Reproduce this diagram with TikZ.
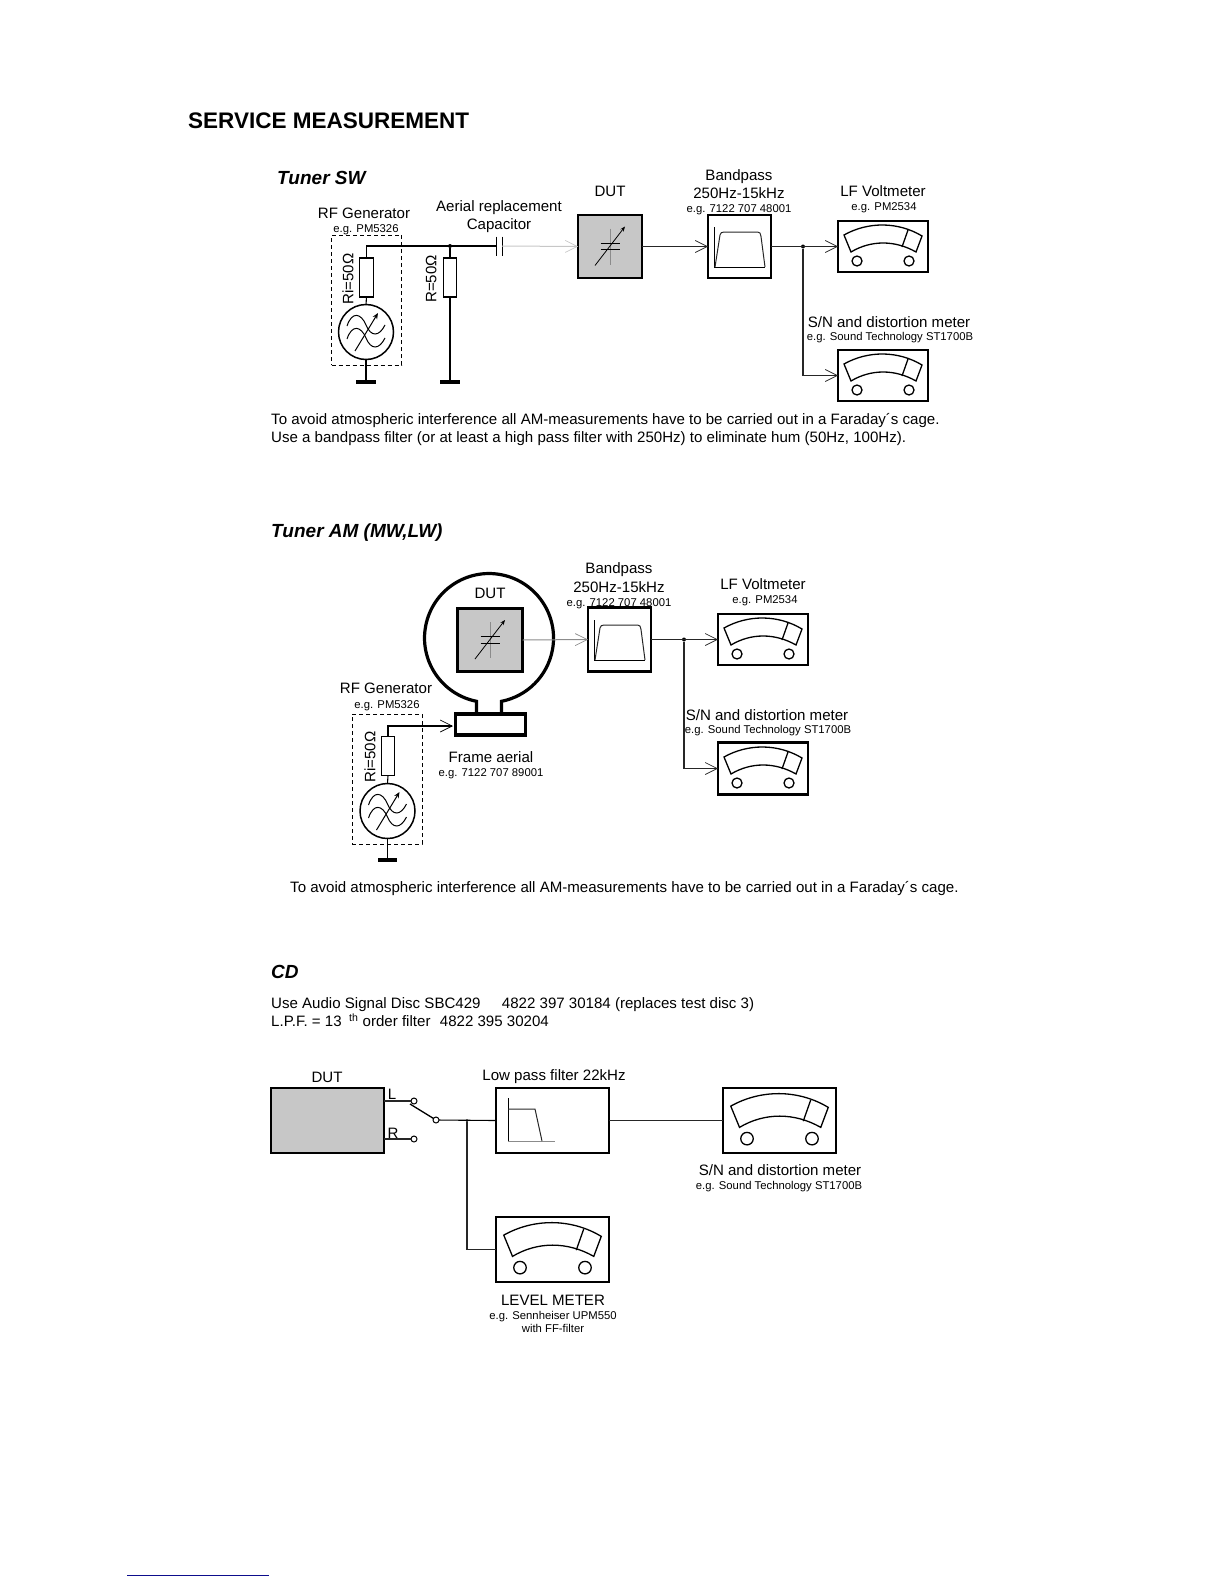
\documentclass[tikz,border=0pt]{standalone}
\usepackage{fontspec}
\setmainfont{Liberation Sans}
\usetikzlibrary{arrows.meta}
\definecolor{dutgray}{gray}{0.78}
\definecolor{wiregray}{gray}{0.15}
\definecolor{palegray}{gray}{0.78}
\definecolor{midgray}{gray}{0.55}
\definecolor{rulecolor}{rgb}{0.05,0.05,0.55}
\tikzset{
  bigtxt/.style={font=\fontsize{15.07}{17}\selectfont,text height=10.8pt,text depth=0pt,inner sep=0pt},
  smalltxt/.style={font=\fontsize{11.3}{13}\selectfont,text height=8pt,text depth=0pt,inner sep=0pt},
  headtxt/.style={font=\fontsize{19}{22}\selectfont\bfseries\itshape,text height=13.6pt,text depth=0pt,inner sep=0pt,anchor=west},
  boxnode/.style={draw,line width=2.2pt,inner sep=0pt,outer sep=0pt},
  dutbox/.style={boxnode,fill=dutgray},
  resbox/.style={draw,line width=1.1pt,inner sep=0pt,outer sep=0pt,minimum width=13.5pt,minimum height=39pt},
  gencircle/.style={draw,circle,line width=1.5pt,inner sep=0pt,outer sep=0pt,minimum size=55pt},
  gndbar/.style={fill=black,inner sep=0pt,outer sep=0pt,minimum width=19.5pt,minimum height=4pt},
  dotnode/.style={circle,fill=black,inner sep=0pt,outer sep=0pt,minimum size=4pt},
  termnode/.style={draw,circle,fill=white,line width=1pt,inner sep=0pt,outer sep=0pt,minimum size=6pt},
  dashbox/.style={draw,dash pattern=on 4pt off 3pt,line width=.9pt,inner sep=0pt,outer sep=0pt,minimum width=70pt,minimum height=130pt},
  wire/.style={line width=1.1pt,draw=wiregray},
  sigwire/.style={wire,-{Straight Barb[length=12pt,width=12pt,line width=.7pt]}},
  palewire/.style={line width=1pt,-{Straight Barb[length=12pt,width=12pt,line width=.7pt]}}
}
\newcommand{\meterface}[2]{%
  \begin{scope}[shift={(#1)},scale=#2,line width=1.3pt]
    \draw (-39,-11.5) .. controls (-15,-25) and (15,-25) .. (39,-10.5) -- (33,5.5) .. controls (12,-6.5) and (-12,-6.5) .. (-32,5.5) -- cycle;
    \draw (25,-16.5) -- (19,.5);
    \draw (-26,14.5) circle (5);
    \draw (26,14.5) circle (5);
  \end{scope}}
\newcommand{\varcap}[1]{%
  \begin{scope}[shift={(#1)}]
    \draw[line width=1pt,palegray!70!black] (0,-18) -- (0,18);
    \draw[line width=1pt] (-9.5,-3.5) -- (9.5,-3.5) (-9.5,3) -- (9.5,3);
    \draw[line width=.8pt,-{Stealth[length=5pt,width=4pt]}] (-15,19) -- (15,-20);
  \end{scope}}
\newcommand{\bandcurve}[1]{%
  \begin{scope}[shift={(#1)}]
    \draw[line width=1pt] (-25.5,-19.5) -- (-25.5,20.5) -- (25.5,20.5);
    \draw[line width=1pt,wiregray] (-24.5,20.5) -- (-19.5,-11.5) .. controls (-18.5,-14) .. (-15.5,-14.5) -- (18,-14.5) .. controls (20.5,-14) .. (21.5,-10) -- (25.5,20.5);
  \end{scope}}
\newcommand{\genface}[1]{%
  \begin{scope}[shift={(#1)},line width=1pt]
    \draw (-19,-6) .. controls (-14,-21) and (-5,-19) .. (0,-7) .. controls (5,5) and (13,5) .. (19,-7);
    \draw (-19,7) .. controls (-14,-8) and (-5,-6) .. (0,6) .. controls (5,18) and (13,18) .. (19,6);
    \draw[-{Stealth[length=6pt,width=5pt]}] (-11,19) -- (12,-19);
  \end{scope}}
\begin{document}
\begin{tikzpicture}[x=1pt,y=1pt,yscale=-1]
\useasboundingbox (0,0) rectangle (1224,1584);
\node[font=\fontsize{22.5}{26}\selectfont\bfseries,anchor=west,inner sep=0pt,text height=16.2pt,text depth=0pt] (pagehead) at (188,120) {SERVICE MEASUREMENT};
% Tuner SW
\node[headtxt] (headsw) at (277,178) {Tuner SW};
\node[dashbox] (rfboxsw) at (366.5,300) {};
\node[bigtxt] (rfsw) at (364,213) {RF Generator};
\node[smalltxt] (rfpmsw) at (366,228) {e.g. PM5326};
\node[resbox] (risw) at (366.5,277.5) {};
\node[bigtxt,rotate=90] (rilabsw) at (348,279) {Ri=50Ω};
\node[gencircle] (gensw) at (366,332) {};
\genface{gensw.center}
\node[gndbar] (gndgensw) at (366,382) {};
\coordinate (capl) at (496,246);
\coordinate (capr) at (502,246);
\node[dotnode] (jsw) at (450,246) {};
\node[resbox] (rsw) at (450,277.5) {};
\node[bigtxt,rotate=90] (rlabsw) at (431,279) {R=50Ω};
\node[gndbar,minimum width=20pt] (gndrsw) at (450,382) {};
\draw[line width=1pt] ([yshift=-9.5]capl) -- ([yshift=9.5]capl) ([yshift=-9.5]capr) -- ([yshift=9.5]capr);
\node[bigtxt] (aerial) at (499,206) {Aerial replacement};
\node[bigtxt] (capacitor) at (499,224) {Capacitor};
\node[bigtxt] (dutlabsw) at (610,191) {DUT};
\node[dutbox,minimum width=64pt,minimum height=63pt] (dutsw) at (610,246.5) {};
\varcap{dutsw.center}
\node[bigtxt] (bandsw) at (739,175) {Bandpass};
\node[bigtxt] (band2sw) at (739,193) {250Hz-15kHz};
\node[smalltxt] (bandnosw) at (739,208) {e.g. 7122 707 48001};
\node[boxnode,minimum width=63pt,minimum height=63pt] (filtsw) at (739.5,246.5) {};
\bandcurve{filtsw.center}
\node[bigtxt] (lfsw) at (883,191) {LF Voltmeter};
\node[smalltxt] (lfpmsw) at (884,206) {e.g. PM2534};
\node[boxnode,minimum width=90pt,minimum height=51pt] (lfmetersw) at (883,246.5) {};
\meterface{lfmetersw.center}{1}
\node[bigtxt] (snsw) at (889,322) {S/N and distortion meter};
\node[smalltxt] (sntypesw) at (890,336.5) {e.g. Sound Technology ST1700B};
\node[boxnode,minimum width=90pt,minimum height=51pt] (snmetersw) at (883,375.5) {};
\meterface{snmetersw.center}{1}
\node[dotnode] (joutsw) at (803,246.5) {};
\draw[wire,black] (risw.north) |- (capl);
\draw[wire,black] (risw.south) -- (gensw.north);
\draw[wire,black] (gensw.south) -- (gndgensw.north);
\draw[wire,black] (jsw) -- (rsw.north);
\draw[wire,black] (rsw.south) -- (gndrsw.north);
\draw[palewire,palegray] (capr) -- (dutsw.west);
\draw[sigwire] (dutsw.east) -- (filtsw.west);
\draw[sigwire] (filtsw.east) -- (lfmetersw.west);
\draw[sigwire] (joutsw) |- (snmetersw.west);
\node[bigtxt,anchor=west] (notesw) at (271,419) {To avoid atmospheric interference all AM-measurements have to be carried out in a Faraday´s cage.};
\node[bigtxt,anchor=west] (notesw2) at (271,437) {Use a bandpass filter (or at least a high pass filter with 250Hz) to eliminate hum (50Hz, 100Hz).};
% Tuner AM
\node[headtxt] (headam) at (271,531) {Tuner AM (MW,LW)};
\node[dashbox] (rfboxam) at (387,779) {};
\node[bigtxt] (rfam) at (386,688) {RF Generator};
\node[smalltxt] (rfpmam) at (387,704) {e.g. PM5326};
\node[resbox,minimum width=12.5pt] (riam) at (388,756) {};
\node[bigtxt,rotate=90] (rilabam) at (370,757) {Ri=50Ω};
\node[gencircle] (genam) at (387.5,811) {};
\genface{genam.center}
\node[gndbar] (gndgenam) at (387.5,860) {};
\draw[line width=3.2pt] (476.5,713) -- (476.5,701.3) arc[start angle=101.2,end angle=438.8,radius=64.5] -- (501.5,713);
\node[draw,line width=3.2pt,inner sep=0pt,outer sep=0pt,minimum width=70pt,minimum height=21pt] (frame) at (490.5,724.5) {};
\node[bigtxt] (framelab) at (491,757) {Frame aerial};
\node[smalltxt] (frameno) at (491,772) {e.g. 7122 707 89001};
\node[bigtxt] (dutlabam) at (490,593) {DUT};
\node[dutbox,minimum width=65pt,minimum height=63pt] (dutam) at (490,640) {};
\varcap{dutam.center}
\node[bigtxt] (bandam) at (619,568) {Bandpass};
\node[bigtxt] (band2am) at (619,587) {250Hz-15kHz};
\node[smalltxt] (bandnoam) at (619,602) {e.g. 7122 707 48001};
\node[boxnode,minimum width=63pt,minimum height=64pt] (filtam) at (619.5,639.5) {};
\bandcurve{filtam.center}
\node[bigtxt] (lfam) at (763,584) {LF Voltmeter};
\node[smalltxt] (lfpmam) at (765,599) {e.g. PM2534};
\node[boxnode,minimum width=90pt,minimum height=51pt] (lfmeteram) at (763,639.5) {};
\meterface{lfmeteram.center}{1}
\node[bigtxt] (snam) at (767,715) {S/N and distortion meter};
\node[smalltxt] (sntypeam) at (768,729) {e.g. Sound Technology ST1700B};
\node[boxnode,minimum width=90pt,minimum height=52pt] (snmeteram) at (763,768.5) {};
\meterface{snmeteram.center}{1}
\node[dotnode] (joutam) at (684,639.5) {};
\coordinate (frameport) at (453,726);
\draw[wire,black] (riam.south) -- (genam.north);
\draw[wire,black] (genam.south) -- (gndgenam.north);
\draw[sigwire,black] (riam.north) |- (frameport);
\draw[palewire,midgray] (dutam.east) -- (filtam.west);
\draw[sigwire] (filtam.east) -- (lfmeteram.west);
\draw[sigwire] (joutam) |- (snmeteram.west);
\node[bigtxt,anchor=west] (noteam) at (290,887) {To avoid atmospheric interference all AM-measurements have to be carried out in a Faraday´s cage.};
% CD
\node[headtxt] (headcd) at (271,972) {CD};
\node[bigtxt,anchor=west] (notecd) at (271,1003) {Use Audio Signal Disc SBC429 \hspace{13pt} 4822 397 30184 (replaces test disc 3)};
\node[bigtxt,anchor=west] (notecd2) at (271,1021) {L.P.F. = 13\hspace{7.5pt}\textsuperscript{th} order filter \hspace{1pt} 4822 395 30204};
\node[bigtxt] (dutlabcd) at (327,1077) {DUT};
\node[dutbox,minimum width=113pt,minimum height=65pt] (dutcd) at (327.5,1120.5) {};
\node[bigtxt] (lout) at (392,1094) {L};
\node[bigtxt] (rout) at (393,1133) {R};
\coordinate (loutport) at (384,1101);
\coordinate (routport) at (384,1139);
\node[termnode] (lterm) at (414,1101) {};
\node[termnode] (rterm) at (414,1139) {};
\node[termnode] (swterm) at (436,1120) {};
\coordinate (swtip) at (410,1104);
\node[dotnode,minimum size=3pt] (jcd) at (467,1120.5) {};
\node[bigtxt] (lowpass) at (554,1075) {Low pass filter 22kHz};
\node[boxnode,minimum width=113pt,minimum height=65pt] (filtcd) at (552.5,1120.5) {};
\draw[line width=1pt] (508,1098) -- (508,1141);
\draw[line width=1pt,palegray!70!black] (508,1141) -- (555,1141);
\draw[line width=1pt,wiregray] (508,1109) -- (535,1109) -- (542,1141);
\node[boxnode,minimum width=113pt,minimum height=65pt] (snmetercd) at (779.5,1120.5) {};
\meterface{snmetercd.center}{1.25}
\node[bigtxt] (sncd) at (780,1170) {S/N and distortion meter};
\node[smalltxt] (sntypecd) at (779,1185) {e.g. Sound Technology ST1700B};
\node[boxnode,minimum width=113pt,minimum height=65pt] (levelcd) at (552.5,1249.5) {};
\meterface{levelcd.center}{1.25}
\node[bigtxt] (levellab) at (553,1300) {LEVEL METER};
\node[smalltxt] (leveltype) at (553,1315) {e.g. Sennheiser UPM550};
\node[smalltxt] (levelff) at (553,1328) {with FF-filter};
\draw[wire] (loutport) -- (lterm);
\draw[wire] (routport) -- (rterm);
\draw[line width=1.3pt] (swtip) -- (swterm);
\draw[wire,black] (swterm) -- (filtcd.west);
\draw[wire] (filtcd.east) -- (snmetercd.west);
\draw[wire] (jcd) |- (levelcd.west);
% page foot
\draw[line width=1pt,rulecolor] (127,1575) -- (269,1575);
\end{tikzpicture}
\end{document}
